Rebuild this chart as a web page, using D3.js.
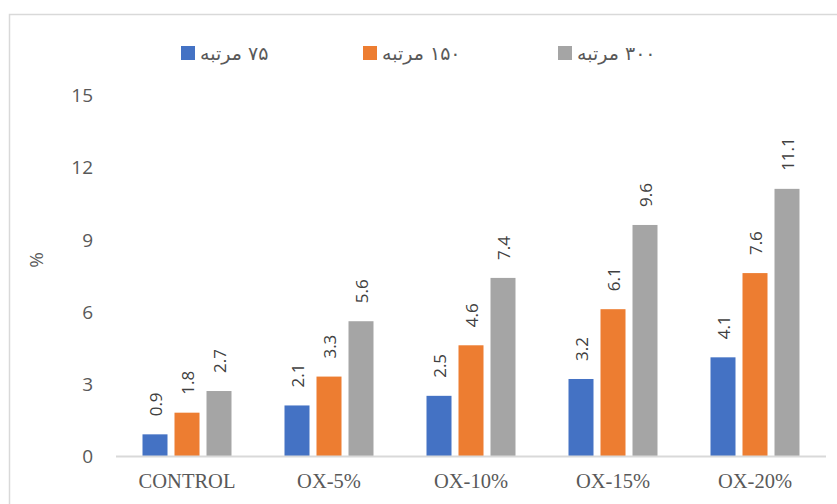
<!DOCTYPE html>
<html>
<head>
<meta charset="utf-8">
<script src="https://cdn.jsdelivr.net/npm/d3@7"></script>
<style>
  html, body { margin: 0; padding: 0; background: #fff; }
  svg { display: block; }
</style>
</head>
<body>
<svg id="chart" width="837" height="504"></svg>
<script>
// Categories, series and values
const categories = ["CONTROL", "OX-5%", "OX-10%", "OX-15%", "OX-20%"];
const seriesNames = ["۷۵ مرتبه", "۱۵۰ مرتبه", "۳۰۰ مرتبه"];
const seriesColors = ["#4472C4", "#ED7D31", "#A5A5A5"];
const values75 = [0.9, 2.1, 2.5, 3.2, 4.1];
const values150 = [1.8, 3.3, 4.6, 6.1, 7.6];
const values300 = [2.7, 5.6, 7.4, 9.6, 11.1];
const yTicks = [0, 3, 6, 9, 12, 15];
const yTitle = "%";

const seriesValues = [values75, values150, values300];

// legend swatch left edges
const legendX = [181, 363, 558];

const svg = d3.select("#chart");

// outer frame (open to the right and bottom)
svg.append("rect")
  .attr("x", 9.5).attr("y", 14.5)
  .attr("width", 900).attr("height", 600)
  .attr("fill", "none").attr("stroke", "#d9d9d9").attr("stroke-width", 1.5);

const x0 = d3.scaleBand().domain(categories).range([116, 826]).padding(0);
const inner = d3.scaleBand().domain(d3.range(seriesNames.length))
  .range([26.5, x0.bandwidth() - 26.5]).paddingInner(7 / 32).paddingOuter(0);
const y = d3.scaleLinear().domain([0, 15]).range([456, 95]);

// y axis tick labels
const yAxis = d3.axisLeft(y).tickValues(yTicks).tickSize(0).tickPadding(0);
const yg = svg.append("g").attr("transform", "translate(93,0)").call(yAxis);
yg.select(".domain").remove();
yg.selectAll("text")
  .attr("fill", "#595959")
  .style("font-family", "'Open Sans', sans-serif")
  .style("font-size", "19px")
  .attr("dy", "0.35em");

// y axis title
svg.append("text")
  .attr("transform", "translate(36,260) rotate(-90)")
  .attr("text-anchor", "middle")
  .attr("dominant-baseline", "central")
  .attr("fill", "#595959")
  .style("font-family", "'Open Sans', sans-serif")
  .style("font-size", "19px")
  .text(yTitle);

// bars
const groups = svg.append("g").selectAll("g")
  .data(categories)
  .join("g")
  .attr("transform", d => `translate(${x0(d)},0)`);

groups.selectAll("rect")
  .data((c, ci) => seriesValues.map((vals, si) => ({ si, v: vals[ci] })))
  .join("rect")
  .attr("x", d => inner(d.si))
  .attr("width", inner.bandwidth())
  .attr("y", d => y(d.v))
  .attr("height", d => y(0) - y(d.v))
  .attr("fill", d => seriesColors[d.si]);

// value labels, rotated
groups.selectAll("text.val")
  .data((c, ci) => seriesValues.map((vals, si) => ({ si, v: vals[ci] })))
  .join("text")
  .attr("class", "val")
  .attr("transform", d => `translate(${inner(d.si) + inner.bandwidth() / 2},${y(d.v) - 18}) rotate(-90)`)
  .attr("text-anchor", "start")
  .attr("dominant-baseline", "central")
  .attr("fill", "#404040")
  .style("font-family", "'Open Sans', sans-serif")
  .style("font-size", "17px")
  .text(d => d3.format(".1f")(d.v));

// x axis line
svg.append("line")
  .attr("x1", 116).attr("x2", 826)
  .attr("y1", 456.5).attr("y2", 456.5)
  .attr("stroke", "#d9d9d9").attr("stroke-width", 2);

// category labels
svg.append("g").selectAll("text")
  .data(categories)
  .join("text")
  .attr("x", d => x0(d) + x0.bandwidth() / 2)
  .attr("y", 488)
  .attr("text-anchor", "middle")
  .attr("fill", "#595959")
  .style("font-family", "'Liberation Serif', 'Times New Roman', serif")
  .style("font-size", "20.5px")
  .text(d => d);

// legend
const items = svg.append("g").selectAll("g")
  .data(seriesNames)
  .join("g")
  .attr("transform", (d, i) => `translate(${legendX[i]},0)`);
items.append("rect")
  .attr("width", 14).attr("height", 14)
  .attr("y", 46)
  .attr("fill", (d, i) => seriesColors[i]);
items.append("text")
  .attr("x", 19)
  .attr("y", 53)
  .attr("dominant-baseline", "central")
  .attr("fill", "#595959")
  .style("font-family", "'DejaVu Sans', sans-serif")
  .style("font-size", "19px")
  .text(d => "\u202B" + d + "\u202C");
</script>
</body>
</html>
